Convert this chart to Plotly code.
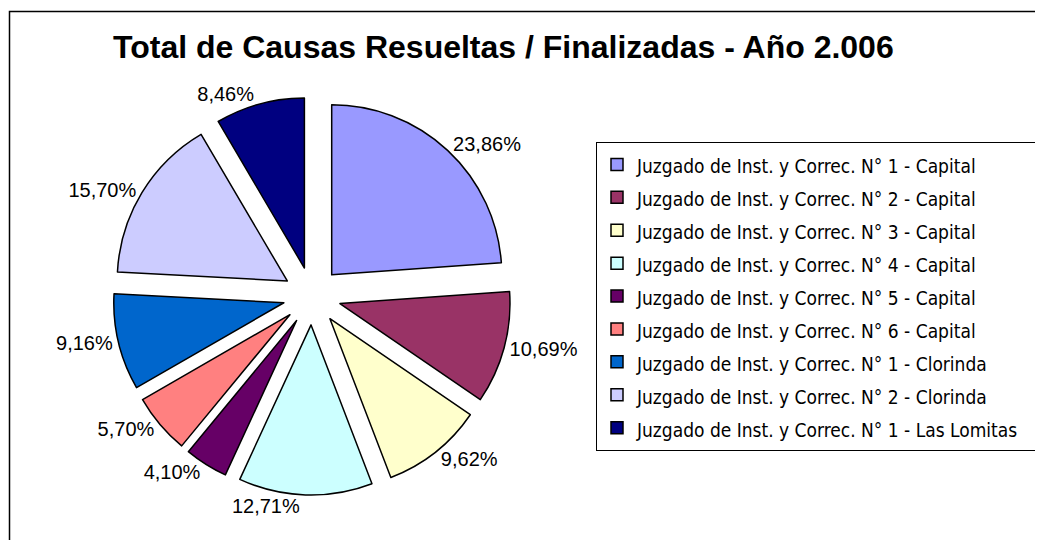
import plotly.graph_objects as go

labels = [
    "Juzgado de Inst. y Correc. N° 1 - Capital",
    "Juzgado de Inst. y Correc. N° 2 - Capital",
    "Juzgado de Inst. y Correc. N° 3 - Capital",
    "Juzgado de Inst. y Correc. N° 4 - Capital",
    "Juzgado de Inst. y Correc. N° 5 - Capital",
    "Juzgado de Inst. y Correc. N° 6 - Capital",
    "Juzgado de Inst. y Correc. N° 1 - Clorinda",
    "Juzgado de Inst. y Correc. N° 2 - Clorinda",
    "Juzgado de Inst. y Correc. N° 1 - Las Lomitas",
]
values = [23.86, 10.69, 9.62, 12.71, 4.10, 5.70, 9.16, 15.70, 8.46]
colors = ["#9999FF", "#993366", "#FFFFCC", "#CCFFFF", "#660066",
          "#FF8080", "#0066CC", "#CCCCFF", "#000080"]
title = "Total de Causas Resueltas / Finalizadas - Año 2.006"

W, H = 1043, 540
OFF = 8  # page body offset in the browser


def fx(sx):
    return (sx - OFF) / W


def fy(sy):
    return 1 - (sy - OFF) / H


legend_names = ["<span style='font-size:19px'>" + l + "&nbsp;&nbsp;</span>" for l in labels]

fig = go.Figure(go.Pie(
    labels=legend_names,
    values=values,
    sort=False,
    direction="clockwise",
    rotation=0,
    pull=0.17,
    marker=dict(colors=colors, line=dict(color="black", width=1.5)),
    texttemplate="%{percent:.2%}",
    textposition="outside",
    textfont=dict(family="Liberation Sans, Arial, sans-serif", size=20, color="black"),
    domain=dict(x=[fx(113), fx(511)], y=[fy(495), fy(97)]),
    hoverinfo="label+percent",
))

fig.update_layout(
    width=W, height=H,
    autosize=False,
    margin=dict(l=0, r=0, t=0, b=0, pad=0, autoexpand=False),
    paper_bgcolor="white",
    separators=",.",
    showlegend=True,
    legend=dict(
        x=fx(596), y=fy(142), xanchor="left", yanchor="top",
        bordercolor="black", borderwidth=1,
        bgcolor="white",
        font=dict(family="Liberation Sans Narrow, Arial Narrow, DejaVu Sans Condensed, sans-serif",
                  size=23, color="black"),
    ),
    annotations=[dict(
        text="<b>" + title + "</b>",
        x=fx(503), y=fy(47), xref="paper", yref="paper",
        xanchor="center", yanchor="middle", showarrow=False,
        font=dict(family="Liberation Sans, Arial, sans-serif", size=32, color="black"),
    )],
    shapes=[dict(
        type="rect", xref="paper", yref="paper",
        x0=fx(9.5), x1=1.05, y0=-0.05, y1=fy(11.5),
        line=dict(color="black", width=1.5), layer="below",
    )],
)

fig.write_html("out.html")
